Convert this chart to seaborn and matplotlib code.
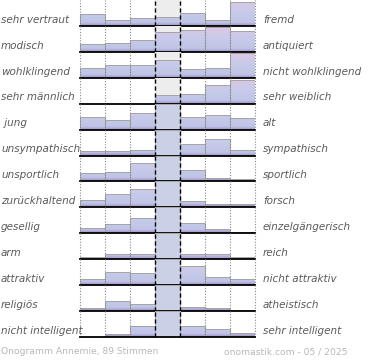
import numpy as np
import matplotlib
matplotlib.use("Agg")
import matplotlib.pyplot as plt
import matplotlib.transforms as mtransforms
from matplotlib.colors import LinearSegmentedColormap
import seaborn as sns

# Beschriftungen links / rechts
left_labels = ["sehr vertraut", "modisch", "wohlklingend", "sehr männlich", " jung",
               "unsympathisch", "unsportlich", "zurückhaltend", "gesellig", "arm",
               "attraktiv", "religiös", "nicht intelligent"]
right_labels = ["fremd", "antiquiert", "nicht wohlklingend", "sehr weiblich", "alt",
                "sympathisch", "sportlich", "forsch", "einzelgängerisch", "reich",
                "nicht attraktiv", "atheistisch", "sehr intelligent"]
steps = ["1", "2", "3", "4", "5", "6", "7"]

# Anteile je Stufe (relativ zur Zeilenhöhe, 1 = voll)
r_vertraut = [0.45, 0.23, 0.30, 0.35, 0.50, 0.23, 0.93]
r_modisch = [0.30, 0.35, 0.46, 0.77, 0.85, 0.96, 0.80]
r_klang = [0.37, 0.50, 0.50, 0.67, 0.35, 0.37, 0.95]
r_geschlecht = [0.00, 0.00, 0.00, 0.35, 0.38, 0.73, 0.93]
r_alter = [0.50, 0.38, 0.65, 1.00, 0.50, 0.58, 0.46]
r_sympathie = [0.17, 0.17, 0.22, 1.00, 0.46, 0.65, 0.23]
r_sport = [0.33, 0.38, 0.72, 1.00, 0.43, 0.14, 0.08]
r_forsch = [0.27, 0.50, 0.69, 1.00, 0.26, 0.13, 0.12]
r_gesellig = [0.19, 0.35, 0.58, 1.00, 0.38, 0.18, 0.04]
r_reich = [0.07, 0.22, 0.19, 1.00, 0.22, 0.22, 0.09]
r_attraktiv = [0.23, 0.52, 0.46, 1.00, 0.73, 0.30, 0.22]
r_religion = [0.12, 0.38, 0.26, 1.00, 0.15, 0.10, 0.04]
r_intelligenz = [0.00, 0.13, 0.41, 1.00, 0.42, 0.30, 0.16]

rows = [r_vertraut, r_modisch, r_klang, r_geschlecht, r_alter, r_sympathie, r_sport,
        r_forsch, r_gesellig, r_reich, r_attraktiv, r_religion, r_intelligenz]

W, H = 370, 360
fig = plt.figure(figsize=(W / 100, H / 100), dpi=100)

# Farbverlauf der Balken: unten lila, Mitte blau, oben rosa
grad = LinearSegmentedColormap.from_list(
    "ono", [(0.0, "#9c8cc4"), (0.13, "#c0c4e6"), (0.5, "#c6cbea"), (1.0, "#e0c6e6")])
grad_img = np.linspace(0, 1, 200).reshape(-1, 1)
flat_color = "#c6cdea"

x0, x1 = 80 / W, 255 / W
top, bottom = 0.0, 337.0
row_h = (bottom - top) / len(rows)

for i, vals in enumerate(rows):
    y_top = top + i * row_h
    ax = fig.add_axes([x0, 1 - (y_top + row_h) / H, x1 - x0, row_h / H])
    sns.barplot(x=steps, y=vals, ax=ax, width=1.0, color=flat_color,
                edgecolor="#a4a4a4", linewidth=0.7, zorder=2)
    ax.set_xlim(-0.5, 6.5)
    ax.set_ylim(0, 1)
    ax.set_axis_off()

    # grauer Hintergrund der Mittelspalte
    ax.axvspan(2.5, 3.5, color="#ededed", zorder=0)

    for p, v in zip(ax.patches, vals):
        if v >= 1:
            continue
        p.set_facecolor("none")
        im = ax.imshow(grad_img, cmap=grad, origin="lower", aspect="auto",
                       extent=(-0.5, 6.5, 0, 1), zorder=1, vmin=0, vmax=1)
        im.set_clip_path(p)
    ax.set_xlim(-0.5, 6.5)
    ax.set_ylim(0, 1)

    for xv in [-0.5, 0.5, 1.5, 4.5, 5.5, 6.5]:
        ax.axvline(xv, color="#8a8a8a", lw=0.8, ls=(0, (1, 1.5)), zorder=3, clip_on=False)
    for xv in [2.5, 3.5]:
        ax.axvline(xv, color="black", lw=1.0, ls=(0, (3, 2)), zorder=3, clip_on=False)
    ax.axhline(0, color="black", lw=1.3, zorder=4, clip_on=False)

    tr = mtransforms.blended_transform_factory(fig.transFigure, ax.transAxes)
    ax.text(1 / W, 0.24, left_labels[i], transform=tr, ha="left", va="center",
            fontsize=7.5, style="italic", color="#5a5a5a")
    ax.text(263 / W, 0.24, right_labels[i], transform=tr, ha="left", va="center",
            fontsize=7.5, style="italic", color="#5a5a5a")

fig.text(1 / W, 1 - 352 / H, "Onogramm Annemie, 89 Stimmen", ha="left", va="center",
         fontsize=6.6, color="#b8b8b8")
fig.text(347 / W, 1 - 352 / H, "onomastik.com - 05 / 2025", ha="right", va="center",
         fontsize=6.6, color="#b8b8b8")

fig.savefig("out.png", dpi=100)
